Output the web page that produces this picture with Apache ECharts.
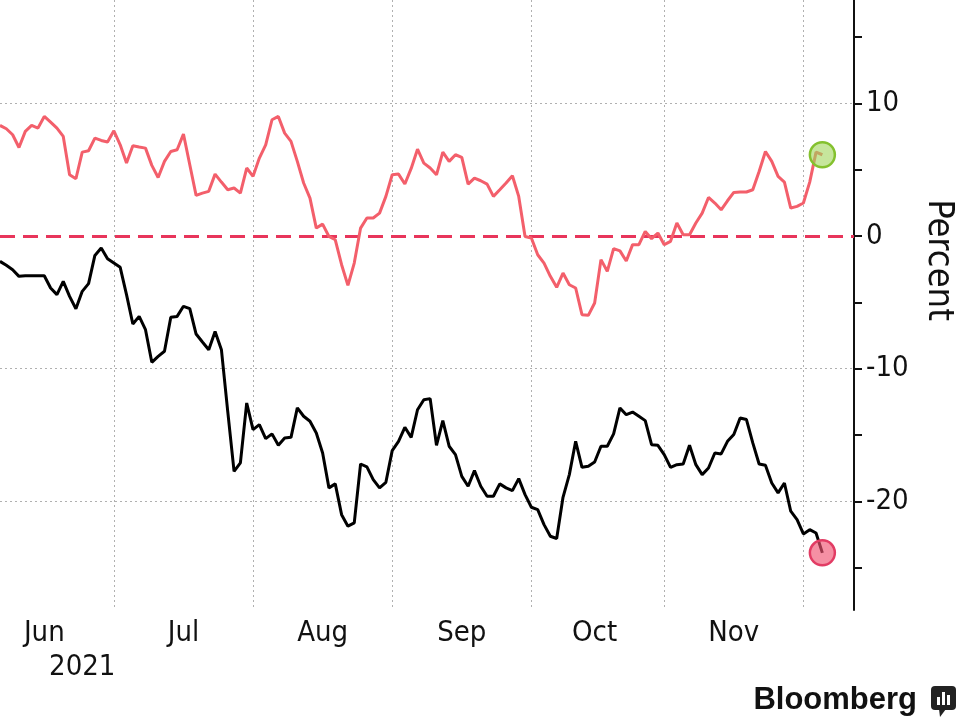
<!DOCTYPE html>
<html>
<head>
<meta charset="utf-8">
<script src="https://cdn.jsdelivr.net/npm/echarts@6/dist/echarts.min.js"></script>
<style>
html,body{margin:0;padding:0;background:#ffffff;}
#chart{width:960px;height:722px;}
</style>
</head>
<body>
<div id="chart"></div>
<script>
// ---- Data (weekday calendar, Jun 7 2021 .. Dec 13 2021) ----
const startDate = '2021-06-07';
const endDate = '2021-12-13';
const monthStarts = ['2021-07-01','2021-08-02','2021-09-01','2021-10-01','2021-11-01','2021-12-01'];
const monthLabelDates = ['2021-06-16','2021-07-16','2021-08-17','2021-09-16','2021-10-15','2021-11-16'];
const monthLabels = ['Jun','Jul','Aug','Sep','Oct','Nov'];
const yearLabelDate = '2021-06-24';
const yearLabel = '2021';
const yLabelValues = [-20, -10, 0, 10];
const yTickValues = [-25, -20, -15, -10, -5, 0, 5, 10, 15];
const yGridValues = [10, -10, -20];
const zeroLineValue = 0;
const yMin = -28.2;
const yMax = 17.8;

const redSeries = [
  8.34, 8.09, 7.64, 6.68, 7.89, 8.34, 8.14, 9.02, 8.59, 8.14,
  7.51, 4.62, 4.32, 6.33, 6.43, 7.39, 7.21, 7.09, 7.94, 6.88,
  5.50, 6.81, 6.71, 6.63, 5.33, 4.42, 5.63, 6.38, 6.51, 7.69,
  5.38, 3.07, 3.24, 3.37, 4.67, 4.07, 3.49, 3.62, 3.24, 5.13,
  4.50, 5.88, 6.88, 8.77, 9.02, 7.76, 7.14, 5.63, 4.00, 2.86,
  0.60, 0.90, -0.03, -0.28, -2.16, -3.72, -2.04, 0.60, 1.36, 1.36,
  1.73, 2.99, 4.62, 4.67, 3.92, 5.10, 6.55, 5.50, 5.13, 4.62,
  6.33, 5.63, 6.13, 5.93, 3.92, 4.37, 4.17, 3.92, 2.99, 3.49,
  4.00, 4.55, 2.99, -0.03, -0.15, -1.41, -2.04, -3.04, -3.87, -2.79,
  -3.67, -3.92, -5.93, -5.98, -5.05, -1.78, -2.66, -0.95, -1.12, -1.88,
  -0.65, -0.65, 0.35, -0.20, 0.23, -0.65, -0.40, 0.98, 0.10, 0.10,
  0.98, 1.73, 2.91, 2.49, 1.98, 2.66, 3.29, 3.32, 3.32, 3.49,
  4.87, 6.38, 5.63, 4.50, 4.07, 2.11, 2.24, 2.49, 4.07, 6.33,
  6.13
];

const blackSeries = [
  -1.91, -2.21, -2.54, -3.04, -2.99, -2.99, -2.99, -2.99, -3.92, -4.42,
  -3.42, -4.55, -5.48, -4.17, -3.59, -1.46, -0.90, -1.71, -2.04, -2.36,
  -4.42, -6.63, -6.06, -7.06, -9.52, -9.07, -8.69, -6.13, -6.06, -5.30,
  -5.48, -7.39, -7.99, -8.57, -7.19, -8.57, -13.22, -17.74, -17.11, -12.59,
  -14.60, -14.22, -15.28, -14.92, -15.78, -15.23, -15.18, -12.96, -13.59, -13.97,
  -14.85, -16.36, -18.99, -18.69, -21.01, -21.88, -21.63, -17.19, -17.41, -18.37,
  -18.99, -18.57, -16.18, -15.48, -14.42, -15.18, -13.10, -12.34, -12.26, -15.78,
  -13.92, -15.85, -16.48, -18.12, -18.87, -17.69, -18.87, -19.62, -19.62, -18.69,
  -18.99, -19.20, -18.29, -19.50, -20.45, -20.63, -21.76, -22.64, -22.81, -19.70,
  -17.99, -15.48, -17.44, -17.36, -17.04, -15.85, -15.85, -14.92, -12.96, -13.47,
  -13.27, -13.59, -13.92, -15.73, -15.78, -16.48, -17.44, -17.24, -17.19, -15.78,
  -17.24, -17.99, -17.49, -16.36, -16.43, -15.48, -14.97, -13.72, -13.84, -15.60,
  -17.19, -17.29, -18.62, -19.37, -18.62, -20.75, -21.38, -22.46, -22.14, -22.39,
  -23.89
];

// ---- Build weekday category list ----
function weekdays(a, b) {
  const out = [];
  let d = new Date(a + 'T00:00:00Z');
  const e = new Date(b + 'T00:00:00Z');
  while (d <= e) {
    const w = d.getUTCDay();
    if (w !== 0 && w !== 6) out.push(d.toISOString().slice(0, 10));
    d = new Date(d.getTime() + 86400000);
  }
  return out;
}
const dates = weekdays(startDate, endDate);
const monthStartSet = new Set(monthStarts);
const labelMap = {};
monthLabelDates.forEach((d, i) => { labelMap[d] = monthLabels[i]; });

const FONT = '"DejaVu Sans Condensed", "Liberation Sans Narrow", "DejaVu Sans", sans-serif';
const lastRed = redSeries.length - 1;
const lastBlack = blackSeries.length - 1;

const chart = echarts.init(document.getElementById('chart'), null, {renderer: 'canvas'});
chart.setOption({
  animation: false,
  backgroundColor: '#ffffff',
  grid: {left: 0, right: 106, top: 0, bottom: 112, containLabel: false},
  xAxis: [{
    type: 'category',
    data: dates,
    boundaryGap: false,
    position: 'bottom',
    axisLine: {show: false},
    axisTick: {show: false},
    axisLabel: {
      interval: (i, v) => labelMap[v] !== undefined,
      formatter: v => labelMap[v] || '',
      fontFamily: FONT, fontSize: 29, color: '#111', margin: 9
    },
    splitLine: {
      show: true,
      interval: (i, v) => monthStartSet.has(v),
      lineStyle: {type: [2, 3], color: '#b0b0b0', width: 1}
    }
  }, {
    type: 'category',
    data: dates,
    boundaryGap: false,
    position: 'bottom',
    axisLine: {show: false},
    axisTick: {show: false},
    splitLine: {show: false},
    axisLabel: {
      interval: (i, v) => v === yearLabelDate,
      formatter: v => (v === yearLabelDate ? yearLabel : ''),
      fontFamily: FONT, fontSize: 29, color: '#111', margin: 43
    }
  }],
  yAxis: {
    type: 'value',
    position: 'right',
    min: yMin,
    max: yMax,
    axisLine: {show: true, lineStyle: {color: '#111', width: 2}},
    axisTick: {show: true, customValues: yTickValues, length: 8, lineStyle: {color: '#111', width: 2}},
    axisLabel: {customValues: yLabelValues, fontFamily: FONT, fontSize: 29, color: '#111', margin: 12},
    splitLine: {show: false}
  },
  graphic: [
    {
      type: 'text', x: 938, y: 260, rotation: -Math.PI / 2,
      style: {text: 'Percent', font: '36px ' + FONT, fill: '#111', align: 'center', verticalAlign: 'middle'}
    },
    {
      type: 'text', x: 917, y: 700,
      style: {text: 'Bloomberg', font: 'bold 31px "Liberation Sans", Arial, sans-serif', fill: '#111', align: 'right', verticalAlign: 'middle'}
    },
    {
      type: 'group', x: 931, y: 686,
      children: [
        {type: 'rect', shape: {x: 0, y: 0, width: 25, height: 24, r: 4}, style: {fill: '#222'}},
        {type: 'polygon', shape: {points: [[8, 23], [15, 23], [9, 31]]}, style: {fill: '#222'}},
        {type: 'rect', shape: {x: 6, y: 11, width: 3, height: 8}, style: {fill: '#fff'}},
        {type: 'rect', shape: {x: 11, y: 6, width: 3, height: 13}, style: {fill: '#fff'}},
        {type: 'rect', shape: {x: 16, y: 9, width: 3, height: 10}, style: {fill: '#fff'}}
      ]
    }
  ],
  series: [
    {
      name: 'Black',
      type: 'line',
      data: blackSeries,
      showSymbol: false,
      symbol: 'none',
      lineStyle: {color: '#000000', width: 3},
      z: 3,
      markLine: {
        silent: true,
        symbol: ['none', 'none'],
        label: {show: false},
        lineStyle: {type: [2, 3], color: '#b0b0b0', width: 1},
        data: yGridValues.map(v => ({yAxis: v})),
        z: 1
      },
      markPoint: {
        silent: true,
        symbol: 'circle',
        symbolSize: 25,
        label: {show: false},
        itemStyle: {color: 'rgba(240, 85, 115, 0.65)', borderColor: '#e23c64', borderWidth: 2.5},
        data: [{coord: [dates[lastBlack], blackSeries[lastBlack]]}]
      }
    },
    {
      name: 'Red',
      type: 'line',
      data: redSeries,
      showSymbol: false,
      symbol: 'none',
      lineStyle: {color: '#f35f6b', width: 3},
      z: 4,
      markLine: {
        silent: true,
        symbol: ['none', 'none'],
        label: {show: false},
        lineStyle: {type: [15, 8], color: '#e8355b', width: 3},
        data: [{yAxis: zeroLineValue}],
        z: 2
      },
      markPoint: {
        silent: true,
        symbol: 'circle',
        symbolSize: 25,
        label: {show: false},
        itemStyle: {color: 'rgba(160, 214, 90, 0.6)', borderColor: '#84c12e', borderWidth: 2.5},
        data: [{coord: [dates[lastRed], redSeries[lastRed]]}]
      }
    }
  ]
});
</script>
</body>
</html>
